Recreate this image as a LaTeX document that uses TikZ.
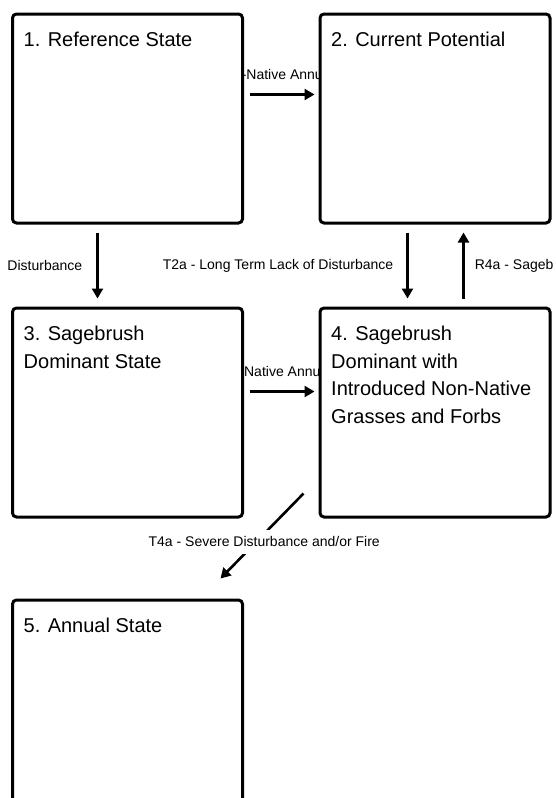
\documentclass[tikz,border=0pt]{standalone}
\usepackage{fontspec}
\setmainfont{Liberation Sans}
\usetikzlibrary{
  arrows.meta,
  positioning,
  backgrounds
}
\definecolor{EdgeBlack}{RGB}{0,0,0}
\tikzset{
  statenode/.style={draw=EdgeBlack,line width=3pt,fill=white,rounded corners=4pt,minimum width=230pt,minimum height=209pt,inner sep=0pt},
  titletext/.style={anchor=north west,inner sep=0pt,align=left,font=\fontsize{20}{27.5}\selectfont},
  transarrow/.style={-{Triangle[length=10pt,width=11pt]},line width=2.6pt,draw=EdgeBlack},
  translabel/.style={font=\fontsize{14}{16}\selectfont,inner sep=0pt}
}

\begin{document}
\begin{tikzpicture}[x=1pt,y=-1pt]
\useasboundingbox (0,0) rectangle (556,798);

\node[statenode] (ref) at (127.5,118.5) {};
\node[statenode] (current) at (435,118.5) {};
\node[statenode] (sage) at (127.5,412.5) {};
\node[statenode] (sageintro) at (435,412.5) {};
\node[statenode] (annual) at (127.5,704.5) {};

\node[titletext] (reftitle) at ([shift={(12.5,19.5)}]ref.north west) {1. Reference State};
\node[titletext] (currenttitle) at ([shift={(12.5,19.5)}]current.north west) {2. Current Potential};
\node[titletext] (sagetitle) at ([shift={(12.5,19.5)}]sage.north west) {3. Sagebrush\\Dominant State};
\node[titletext] (sageintrotitle) at ([shift={(12.5,19.5)}]sageintro.north west) {4. Sagebrush\\Dominant with\\Introduced Non-Native\\Grasses and Forbs};
\node[titletext] (annualtitle) at ([shift={(12.5,19.5)}]annual.north west) {5. Annual State};

\begin{scope}[on background layer]
\draw[transarrow] ([shift={(6,82)}]ref.north east) -- node[translabel,above=14pt]{-Native Annu} ([shift={(-4,82)}]current.north west);
\draw[transarrow] ([shift={(6,85)}]sage.north east) -- node[translabel,above=14pt]{Native Annu} ([shift={(-4,85)}]sageintro.north west);
\draw[transarrow] ([shift={(86.5,8)}]ref.south west) -- node[translabel,left=14pt]{Disturbance} ([shift={(86.5,-8)}]sage.north west);
\draw[transarrow] ([shift={(89,8)}]current.south west) -- node[translabel,left=13pt]{T2a - Long Term Lack of Disturbance} ([shift={(89,-8)}]sageintro.north west);
\draw[transarrow] ([shift={(145,-8)}]sageintro.north west) -- node[translabel,right=10pt]{R4a - Sageb} ([shift={(145,8)}]current.south west);
\draw[transarrow] ([shift={(-15,-25)}]sageintro.south west) -- node[translabel,pos=0.57,xshift=8pt,fill=white,inner xsep=2pt,inner ysep=6.5pt]{T4a - Severe Disturbance and/or Fire} ([shift={(-23.5,-20)}]annual.north east);
\end{scope}
\end{tikzpicture}
\end{document}
